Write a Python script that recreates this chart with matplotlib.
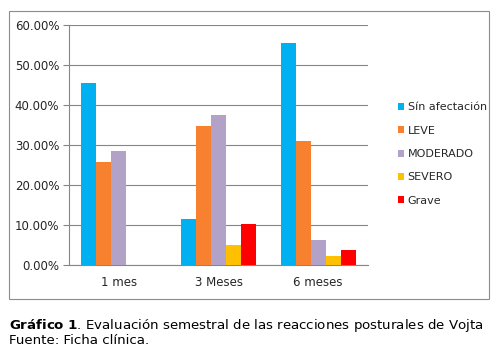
import numpy as np
import matplotlib.pyplot as plt
from matplotlib.patches import Rectangle
from matplotlib.ticker import FuncFormatter

categories = ['1 mes', '3 Meses', '6 meses']
series_names = ['Sín afectación', 'LEVE', 'MODERADO', 'SEVERO', 'Grave']
sin_afectacion = [45.45, 11.5, 55.6]
leve = [25.8, 34.8, 31.0]
moderado = [28.6, 37.6, 6.3]
severo = [0.0, 5.0, 2.3]
grave = [0.0, 10.3, 3.8]
colors = ['#00B0F0', '#F7812F', '#B3A2C7', '#FFC000', '#FF0000']

values = [sin_afectacion, leve, moderado, severo, grave]

fig = plt.figure(figsize=(4.98, 3.55), dpi=100)
W, H = 498, 355

# outer chart frame
fig.patches.append(Rectangle((9 / W, 1 - 299 / H), 480 / W, 288 / H,
                             transform=fig.transFigure, fill=False,
                             edgecolor='#8C8C8C', linewidth=0.8))

ax = fig.add_axes([69 / W, 1 - 265 / H, 299 / W, 240 / H])
x = np.arange(len(categories))
bw = 0.15
for i, (name, vals) in enumerate(zip(series_names, values)):
    ax.bar(x + (i - 2) * bw, vals, bw, color=colors[i], label=name, zorder=3)

ax.set_xlim(-0.5, 2.5)
ax.set_ylim(0, 60)
ax.set_yticks(np.arange(0, 61, 10))
ax.yaxis.set_major_formatter(FuncFormatter(lambda v, p: '%.2f%%' % v))
ax.set_xticks(x)
ax.set_xticklabels(categories)
ax.grid(axis='y', color='#868686', linewidth=0.8, zorder=0)
for s in ['top', 'right']:
    ax.spines[s].set_visible(False)
ax.spines['left'].set_color('#868686')
ax.spines['bottom'].set_color('#868686')
ax.tick_params(axis='y', length=4, color='#868686', labelsize=8.5, pad=3)
ax.tick_params(axis='x', length=0, labelsize=8.5, pad=8)
for lbl in ax.get_xticklabels() + ax.get_yticklabels():
    lbl.set_fontfamily('DejaVu Sans')
    lbl.set_color('#262626')

leg = fig.legend(loc='center left', bbox_to_anchor=(392 / W, 1 - 154 / H),
                 frameon=False, fontsize=8, handlelength=0.6, handleheight=0.6,
                 handletextpad=0.3, labelspacing=1.2, borderpad=0)
for t in leg.get_texts():
    t.set_color('#262626')

fig.text(9 / W, 1 - 326 / H, r'$\bf{Gráfico\ 1}$. Evaluación semestral de las reacciones posturales de Vojta',
         fontsize=9.6, va='center', family='DejaVu Sans')
fig.text(9 / W, 1 - 341 / H, 'Fuente: Ficha clínica.', fontsize=9.6, va='center',
         family='DejaVu Sans')

fig.savefig('out.png', dpi=100)
